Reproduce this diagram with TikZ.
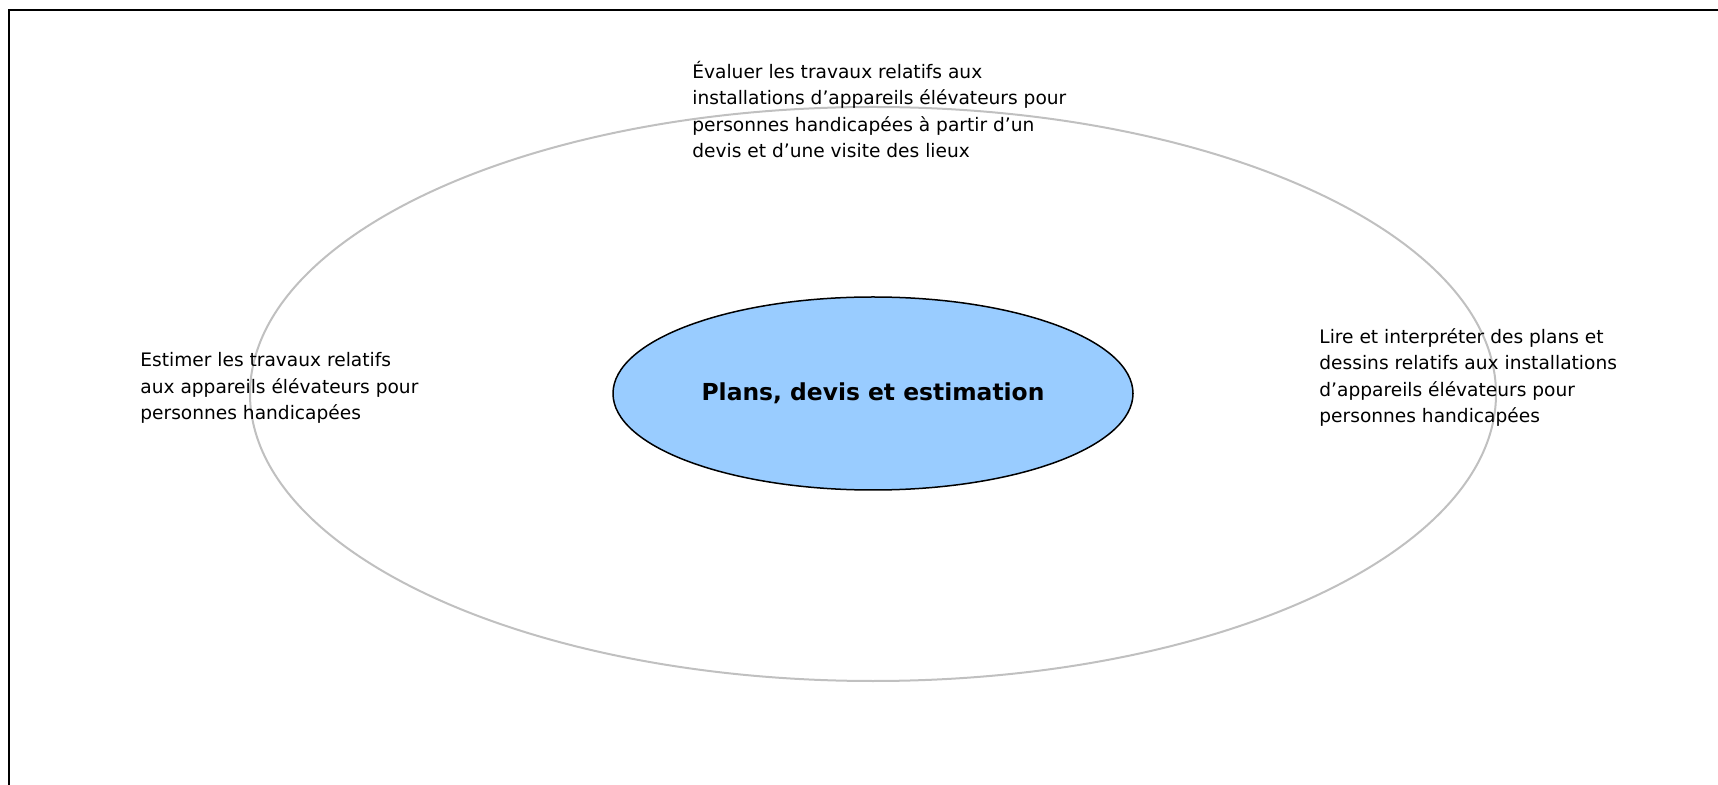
\documentclass[tikz,border=0pt]{standalone}
\usepackage{fontspec}
\setmainfont{DejaVu Sans}
\usetikzlibrary{shapes.geometric}
\definecolor{bleu}{HTML}{99CCFF}
\definecolor{gris}{HTML}{C0C0C0}
\tikzset{
  txt/.style={anchor=base west, align=left, inner sep=0pt,
    font=\fontsize{9.3pt}{13.3pt}\selectfont},
}

\begin{document}
\begin{tikzpicture}[x=0.5pt,y=-0.5pt]
    \useasboundingbox (0,0) rectangle (1718,785);
    \draw[line width=1.2pt] (1718,10) -- (9,10) -- (9,785);

    \node[draw=gris, line width=1pt, ellipse, inner sep=0pt,
          minimum width=623pt, minimum height=287pt] at (873,394) (anneau) {};
    \node[draw, line width=0.75pt, fill=bleu, ellipse, inner sep=0pt,
          minimum width=260pt, minimum height=96.5pt,
          font=\fontsize{11.7pt}{14pt}\selectfont\bfseries] at (873,393.5) (centre)
          {Plans, devis et estimation};

    \node[txt] at (692,158) (evaluer) {Évaluer les travaux relatifs aux\\
      installations d’appareils élévateurs pour\\
      personnes handicapées à partir d’un\\
      devis et d’une visite des lieux};
    \node[txt] at (140,420) (estimer) {Estimer les travaux relatifs\\
      aux appareils élévateurs pour\\
      personnes handicapées};
    \node[txt] at (1319,423) (lire) {Lire et interpréter des plans et\\
      dessins relatifs aux installations\\
      d’appareils élévateurs pour\\
      personnes handicapées};
\end{tikzpicture}
\end{document}
